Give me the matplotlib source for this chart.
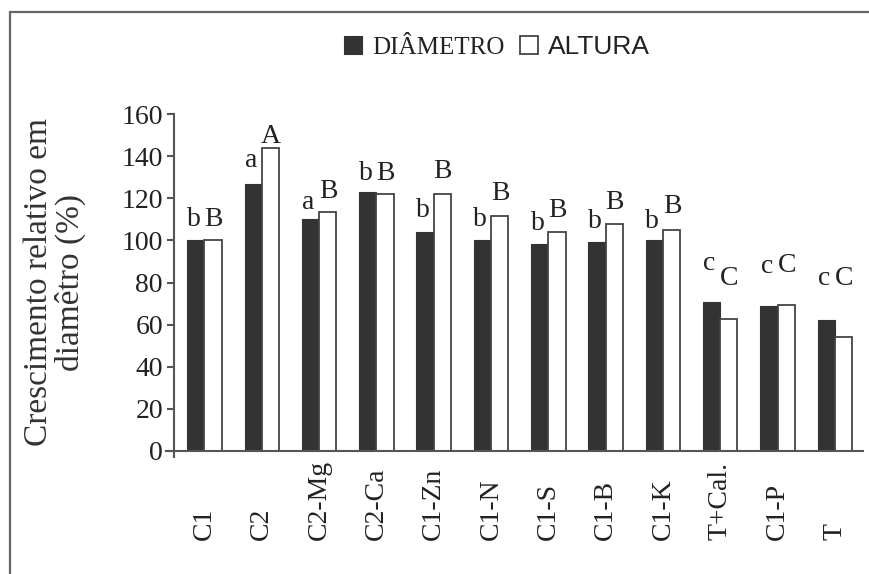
import numpy as np
import matplotlib.pyplot as plt
from matplotlib.patches import Rectangle

# Data
categories = ["C1", "C2", "C2-Mg", "C2-Ca", "C1-Zn", "C1-N", "C1-S", "C1-B",
              "C1-K", "T+Cal.", "C1-P", "T"]
diametro = [100, 127, 110, 123, 104, 100.3, 98.4, 99.2, 100.3, 70.6, 68.7, 62]
altura = [100, 144, 113.5, 122, 122, 111.6, 104, 107.8, 105, 62.7, 69.5, 54.3]

# letters of the mean comparison test and the height where they stand
letters_diam = ["b", "a", "a", "b", "b", "b", "b", "b", "b", "c", "c", "c"]
letters_alt = ["B", "A", "B", "B", "B", "B", "B", "B", "B", "C", "C", "C"]
letters_diam_y = [107, 135, 115, 128.5, 111, 106.7, 104.8, 105.7, 105.7, 85.7, 84.3, 79]
letters_alt_y = [107, 146, 120, 128.5, 129.5, 119, 111, 114.8, 112.9, 79, 84.8, 79]

serif = "Liberation Serif"
dark = "#333333"
edge = "#444444"

fig = plt.figure(figsize=(8.7, 5.74), dpi=100)
W, H = 870, 574

# outer frame of the original figure
fig.patches.append(Rectangle((10 / W, -0.1), 1.2, 1.1 - 12 / H, transform=fig.transFigure,
                             fill=False, edgecolor="#666666", linewidth=1.6))

ax = fig.add_axes([166 / W, 1 - 451 / H, 697 / W, 337 / H])

x = np.arange(len(categories))
w = 0.3
ax.bar(x - w / 2, diametro, w, color=dark, edgecolor=dark, linewidth=0.8, label="DIÂMETRO")
ax.bar(x + w / 2, altura, w, color="white", edgecolor=edge, linewidth=1.3, label="ALTURA")

for i in range(len(categories)):
    ax.text(x[i] - w / 2 - 0.04, letters_diam_y[i], letters_diam[i], ha="center",
            va="baseline", fontsize=20, family=serif, color="#222222")
    ax.text(x[i] + w / 2 + 0.01, letters_alt_y[i], letters_alt[i], ha="center",
            va="baseline", fontsize=20, family=serif, color="#222222")

x0 = -0.53
ax.set_xlim(-0.67, 11.49)
ax.set_ylim(0, 160)
for s in ["top", "right"]:
    ax.spines[s].set_visible(False)
ax.spines["left"].set_position(("data", x0))
ax.spines["left"].set_bounds(0, 160)
for s in ["left", "bottom"]:
    ax.spines[s].set_color("#555555")
    ax.spines[s].set_linewidth(1.5)

ax.set_yticks(np.arange(0, 161, 20))
ax.tick_params(axis="y", length=5, width=1.5, color="#555555", pad=3,
               labelsize=20, labelcolor="#222222")
for t in ax.get_yticklabels():
    t.set_family(serif)

ax.set_xticks(x, categories, rotation=90, ha="left", va="center", rotation_mode="anchor")
ax.tick_params(axis="x", length=0, pad=64, labelsize=20, labelcolor="#222222")
for t in ax.get_xticklabels():
    t.set_family(serif)
# small stub of the y axis below the x axis
ax.set_xticks([x0], minor=True)
ax.tick_params(axis="x", which="minor", length=5, width=1.5, color="#555555")

ax.set_ylabel("Crescimento relativo em\ndiamêtro (%)", fontsize=24, family=serif,
              color="#333333", va="center", linespacing=1.05)
ax.yaxis.set_label_coords((55 - 166) / 697, 0.5)

leg = ax.legend(loc="center", bbox_to_anchor=(497 / W, 1 - 47 / H),
                bbox_transform=fig.transFigure, ncol=2, frameon=False,
                handlelength=0.75, handleheight=0.75, handletextpad=0.4,
                columnspacing=0.6, borderpad=0, fontsize=18)
texts = leg.get_texts()
texts[0].set_family(serif)
texts[1].set_family(["Liberation Sans Narrow", "Liberation Sans"])
texts[1].set_fontsize(19)
for t in texts:
    t.set_color("#222222")

fig.savefig("out.png", dpi=100)
